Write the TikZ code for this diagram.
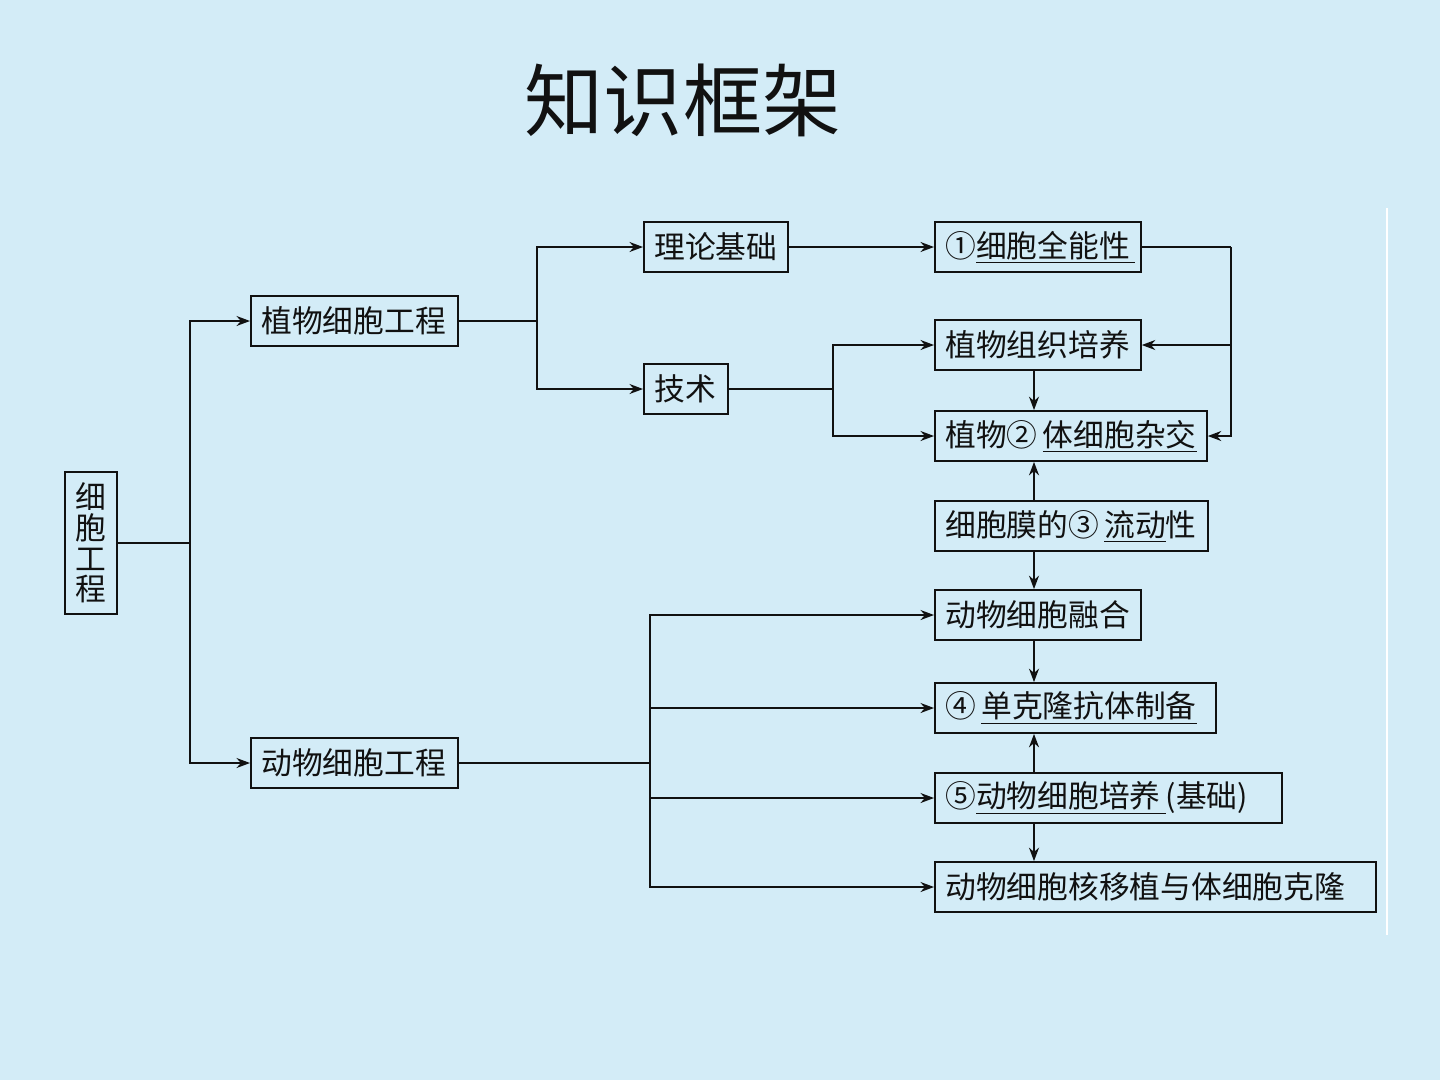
\documentclass[tikz,border=0pt]{standalone}
\usepackage{fontspec}
\setmainfont{Noto Sans CJK SC}
\usepackage{xcolor}
\definecolor{SlideBg}{HTML}{D3ECF7}
\definecolor{Ink}{HTML}{111111}
\usetikzlibrary{positioning,calc,arrows.meta}
\tikzset{
  bx/.style={draw=Ink,line width=1pt,inner xsep=6pt,inner ysep=0pt,
    minimum height=1cm,anchor=west,align=left,
    font=\fontsize{17.5}{20}\selectfont,text=Ink},
  ln/.style={draw=Ink,line width=1pt},
  arr/.style={ln,-{Stealth[length=2.7mm,width=2mm]}},
  ttl/.style={font=\fontsize{45}{50}\selectfont,text=Ink},
}
\newcommand{\fillin}[1]{\underline{#1}}

\begin{document}
\begin{tikzpicture}[x=0.02cm,y=-0.02cm]
\fill[SlideBg] (0,0) rectangle (1440,1080);
\useasboundingbox (0,0) rectangle (1440,1080);
\draw[white,line width=0.6pt] (1387,208) -- (1387,935);

\node[ttl] (title) at (683,100) {知识框架};

% left part
\node[bx,anchor=center,minimum width=1.04cm,minimum height=2.84cm,inner xsep=0pt,
  align=center,font=\fontsize{17.5}{17.5}\selectfont] (cell) at (91,543)
  {细\\胞\\工\\程};
\node[bx,text width=3.72cm] (plant) at (250,321) {植物细胞工程};
\node[bx,text width=3.72cm] (animal) at (250,763) {动物细胞工程};
\node[bx,text width=2.46cm] (theory) at (643,247) {理论基础};
\node[bx,text width=1.26cm] (tech) at (643,389) {技术};

% right column
\node[bx,text width=3.70cm] (totip) at (934,247) {①\fillin{细胞全能性\,}};
\node[bx,text width=3.70cm] (tissue) at (934,345) {植物组织培养};
\node[bx,text width=5.02cm] (hybrid) at (934,436) {植物②\,\fillin{体细胞杂交}};
\node[bx,text width=5.04cm] (membr) at (934,526) {细胞膜的③\,\fillin{流动}性};
\node[bx,text width=3.70cm] (fusion) at (934,615) {动物细胞融合};
\node[bx,text width=5.20cm] (mab) at (934,708) {④\,\fillin{单克隆抗体制备}};
\node[bx,text width=6.52cm] (cult) at (934,798) {⑤\fillin{动物细胞培养\,}(基础)};
\node[bx,text width=8.40cm] (clone) at (934,887) {动物细胞核移植与体细胞克隆};

% joints
\coordinate (j0) at (190,543);
\coordinate (j1) at (537,321);
\coordinate (j2) at (833,389);
\coordinate (j3) at (1231,247);
\coordinate (j4) at (650,763);
\coordinate (vx) at (1034,0);

\draw[ln] (cell.east) -- (j0);
\draw[arr] (j0) |- (plant.west);
\draw[arr] (j0) |- (animal.west);

\draw[ln] (plant.east) -- (j1);
\draw[arr] (j1) |- (theory.west);
\draw[arr] (j1) |- (tech.west);
\draw[arr] (theory.east) -- (totip.west);

\draw[ln] (tech.east) -- (j2);
\draw[arr] (j2) |- (tissue.west);
\draw[arr] (j2) |- (hybrid.west);

\draw[ln] (totip.east) -- (j3);
\draw[arr] (j3) |- (hybrid.east);
\draw[arr] (j3) |- (tissue.east);

\draw[ln] (animal.east) -- (j4);
\foreach \t in {fusion,mab,cult,clone}
  \draw[arr] (j4) |- (\t.west);

\foreach \a/\b in {tissue.south/hybrid.north,membr.north/hybrid.south,
  membr.south/fusion.north,fusion.south/mab.north,cult.north/mab.south,
  cult.south/clone.north}
  \draw[arr] (vx |- \a) -- (vx |- \b);
\end{tikzpicture}
\end{document}
